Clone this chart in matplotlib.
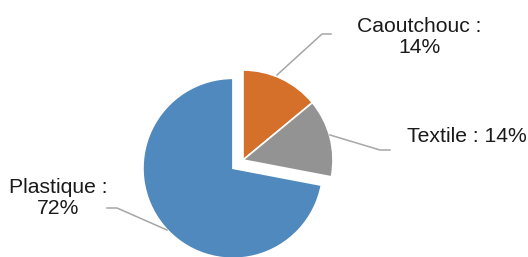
import matplotlib
matplotlib.use("Agg")
import matplotlib.pyplot as plt

categories = ["Caoutchouc", "Textile", "Plastique"]
values = [14, 14, 72]
colors = ["#d4702a", "#939393", "#4f89bd"]
explode_frac = [0, 0, 0.145]

W, H = 528, 257
fig = plt.figure(figsize=(W / 100, H / 100), dpi=100)
ax = fig.add_axes([0, 0, 1, 1])

cx, cy, r = 243, H - 160, 90
ax.pie(values, colors=colors, explode=[e * r for e in explode_frac], startangle=90,
       counterclock=False, center=(cx, cy), radius=r, frame=True,
       wedgeprops=dict(edgecolor="white", linewidth=1.2))
ax.set_xlim(0, W)
ax.set_ylim(0, H)
ax.set_aspect("equal")
ax.axis("off")

font = dict(family=["Liberation Sans", "DejaVu Sans"], fontsize=15.2, color="#1a1a1a")
lc = "#a6a6a6"

leaders = {
    "Caoutchouc": [(277, 75), (322, 34), (331, 34)],
    "Textile": [(330, 135), (380, 150), (390, 150)],
    "Plastique": [(167, 230), (117, 208), (107, 208)],
}
for pts in leaders.values():
    ax.plot([p[0] for p in pts], [H - p[1] for p in pts], color=lc, lw=1.1)

labels = {
    "Caoutchouc": (419, 37),
    "Textile": (467, 136),
    "Plastique": (58, 198),
}
for cat, val in zip(categories, values):
    x, y = labels[cat]
    txt = f"{cat} : {val}%" if cat == "Textile" else f"{cat} :\n{val}%"
    ax.text(x, H - y, txt, ha="center", va="center", multialignment="center",
            linespacing=1.12, **font)

fig.savefig("out.png", dpi=100)
